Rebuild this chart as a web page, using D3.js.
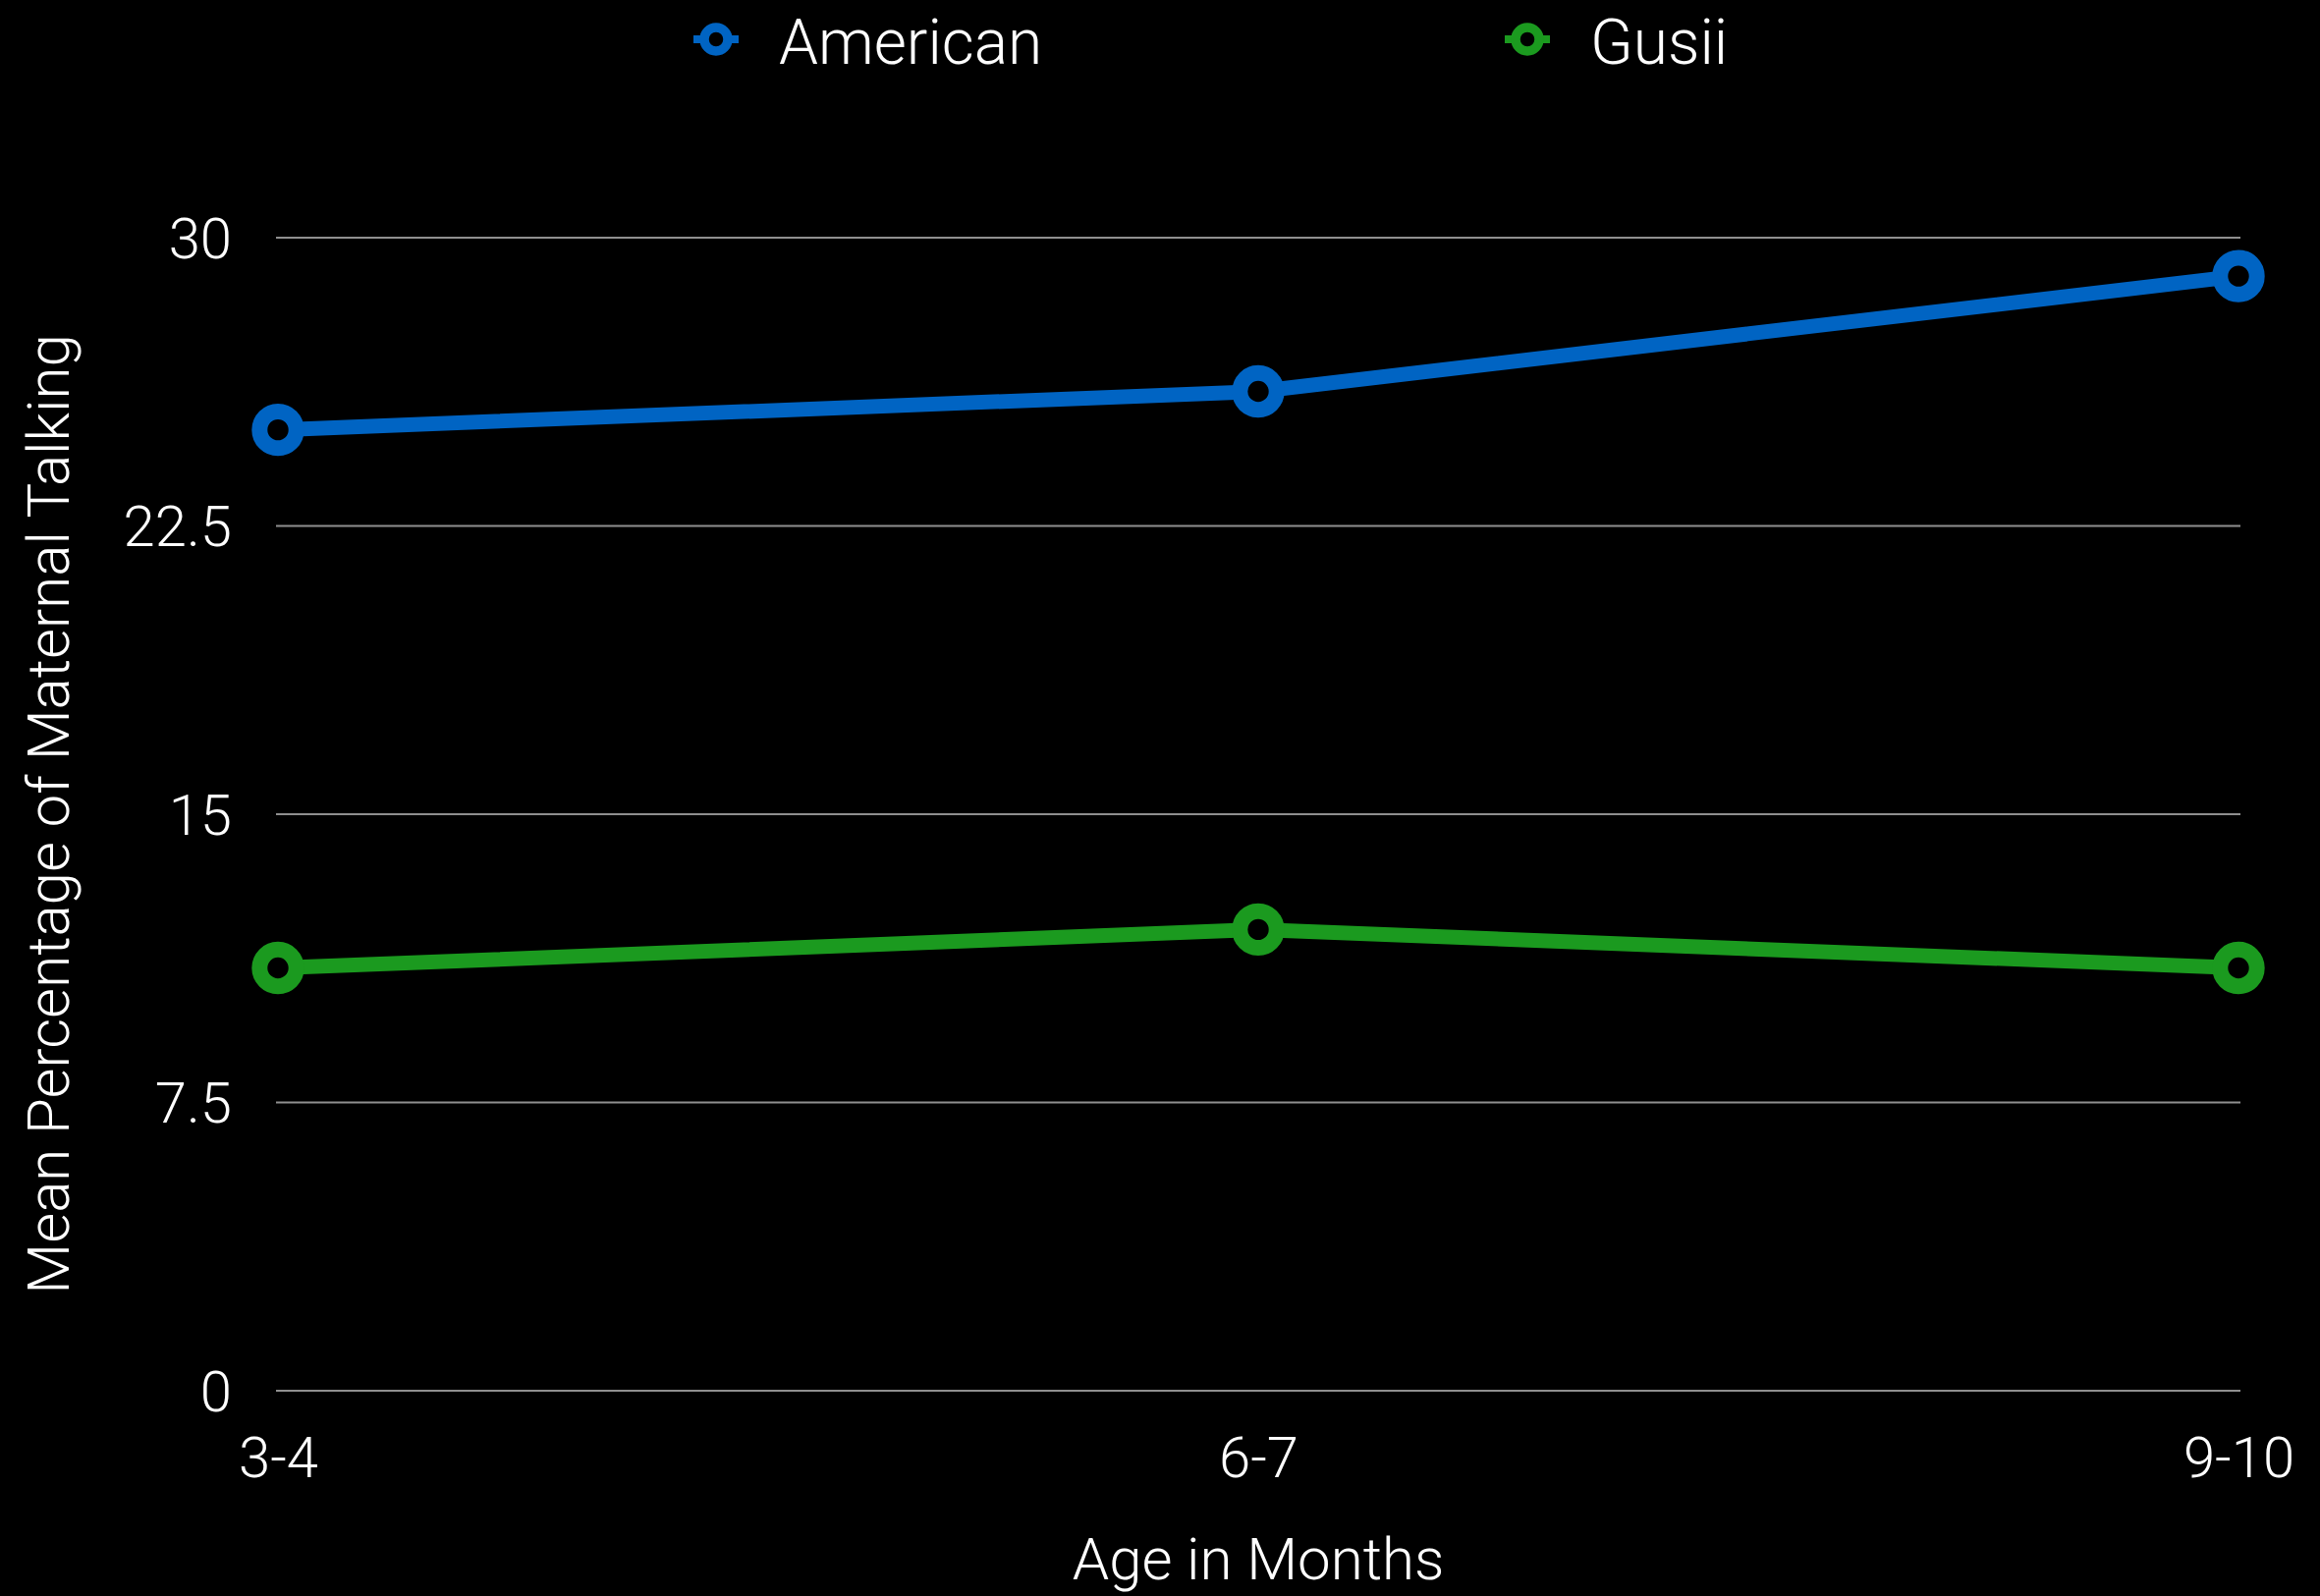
<!DOCTYPE html>
<html>
<head>
<meta charset="utf-8">
<script src="https://cdn.jsdelivr.net/npm/d3@7"></script>
<style>
  html, body { margin: 0; padding: 0; background: #000; }
  svg { display: block; }
  text { font-family: "Roboto", "Liberation Sans", sans-serif; font-weight: 300; fill: #fff; }
</style>
</head>
<body>
<svg id="chart" width="2362" height="1625"></svg>
<script>
// Age groups on the x axis
const ageGroups = ["3-4", "6-7", "9-10"];
// Mean percentage of maternal talking per group
const americanValues = [25, 26, 29];
const gusiiValues = [11, 12, 11];
const yTicks = [0, 7.5, 15, 22.5, 30];
const yTickLabels = ["0", "7.5", "15", "22.5", "30"];
const seriesNames = ["American", "Gusii"];
const seriesColors = ["#0064c3", "#1b9a1f"];

const svg = d3.select("#chart");
const W = 2362, H = 1625;
svg.append("rect").attr("width", W).attr("height", H).attr("fill", "#000");

const x = d3.scalePoint().domain(ageGroups).range([283, 2279]);
const y = d3.scaleLinear().domain([0, 30]).range([1416, 242]);

// Y axis labels
const yAxis = d3.axisLeft(y)
  .tickValues(yTicks)
  .tickSize(0)
  .tickFormat((d, i) => yTickLabels[i]);
const gy = svg.append("g").attr("transform", "translate(236,0)").call(yAxis);
gy.select(".domain").remove();
gy.selectAll("text")
  .attr("x", 0)
  .attr("dy", "0.35em")
  .style("font-size", "58px")
  .attr("text-anchor", "end");

// Horizontal grid lines
svg.append("g").selectAll("line")
  .data(yTicks)
  .join("line")
  .attr("x1", 281).attr("x2", 2281)
  .attr("y1", d => y(d)).attr("y2", d => y(d))
  .attr("stroke", "#8f8f8f")
  .attr("stroke-width", 2);

// X axis labels
const xAxis = d3.axisBottom(x).tickSize(0);
const gx = svg.append("g").attr("transform", "translate(0,1416)").call(xAxis);
gx.select(".domain").remove();
gx.selectAll("text")
  .attr("y", 0)
  .attr("dy", 88)
  .style("font-size", "58px");

// Axis titles
svg.append("text")
  .attr("x", 1281).attr("y", 1608)
  .attr("text-anchor", "middle")
  .style("font-size", "60px")
  .text("Age in Months");

svg.append("text")
  .attr("transform", "translate(70,829) rotate(-90)")
  .attr("text-anchor", "middle")
  .style("font-size", "60px")
  .text("Mean Percentage of Maternal Talking");

// Series lines and markers
const series = [americanValues, gusiiValues];
const line = d3.line().x((d, i) => x(ageGroups[i])).y(d => y(d));

series.forEach((vals, si) => {
  const g = svg.append("g");
  g.append("path")
    .datum(vals)
    .attr("d", line)
    .attr("fill", "none")
    .attr("stroke", seriesColors[si])
    .attr("stroke-width", 15)
    .attr("stroke-linejoin", "round");
  g.selectAll("circle")
    .data(vals)
    .join("circle")
    .attr("cx", (d, i) => x(ageGroups[i]))
    .attr("cy", d => y(d))
    .attr("r", 18.7)
    .attr("fill", "#000")
    .attr("stroke", seriesColors[si])
    .attr("stroke-width", 16);
});

// Legend
const legendX = [729, 1555];
const legend = svg.append("g");
seriesNames.forEach((name, i) => {
  const lg = legend.append("g").attr("transform", `translate(${legendX[i]},40)`);
  lg.append("line")
    .attr("x1", -23).attr("x2", 23)
    .attr("stroke", seriesColors[i])
    .attr("stroke-width", 8);
  lg.append("circle")
    .attr("r", 12)
    .attr("fill", "#000")
    .attr("stroke", seriesColors[i])
    .attr("stroke-width", 9.5);
  lg.append("text")
    .attr("x", 64).attr("y", 25)
    .style("font-size", "64px")
    .text(name);
});
</script>
</body>
</html>
